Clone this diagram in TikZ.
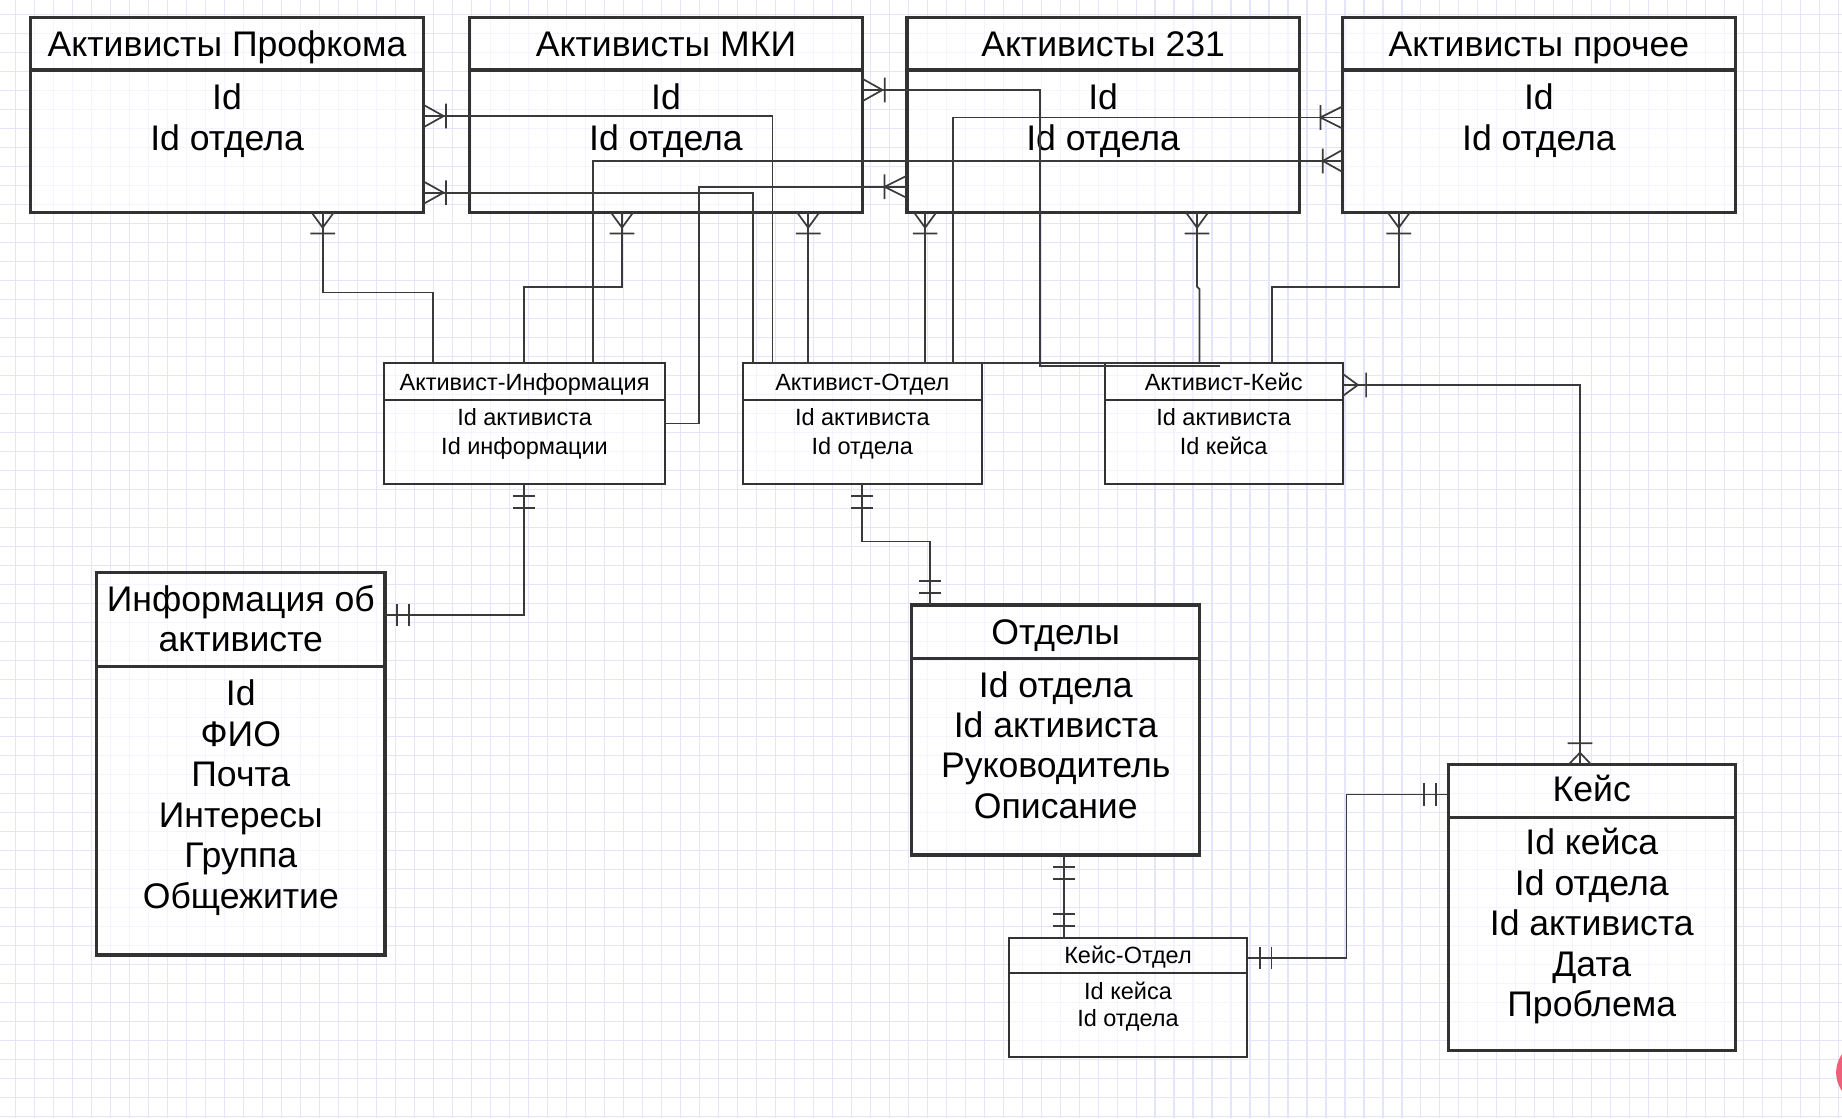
\documentclass[tikz,border=0pt]{standalone}
\usepackage{fontspec}
\setmainfont{Liberation Sans}
\usetikzlibrary{calc}
\definecolor{gridc}{RGB}{228,228,250}
\definecolor{ink}{RGB}{50,50,50}
\definecolor{linec}{RGB}{58,58,58}
\definecolor{dotc}{RGB}{238,96,122}
\tikzset{
  bigbox/.style={draw=ink, line width=2.7pt, fill=white, fill opacity=0.6, inner sep=0pt, outer sep=0pt},
  smallbox/.style={draw=ink, line width=1.6pt, fill=white, fill opacity=0.6, inner sep=0pt, outer sep=0pt},
  conn/.style={draw=linec, line width=1.45pt},
  gridline/.style={draw=gridc, line width=0.9pt},
  bigtxt/.style={font=\fontsize{30.3}{35}\selectfont, anchor=base, inner sep=0pt},
  smalltxt/.style={font=\fontsize{20}{24}\selectfont, anchor=base, inner sep=0pt},
}
% name, x1, y1, x2, y2, ydiv, style
\newcommand\ebox[7]{%
  \node[#7, anchor=north west, minimum width={(#4-#2)*1pt}, minimum height={(#5-#3)*1pt}] (#1) at (#2,#3) {};
  \draw[#7, fill=none] (#2,#6) -- (#4,#6);
}
% prefix, style, cx, y0, dy, list
\newcommand\tlines[6]{%
  \foreach \t [count=\i from 0] in {#6} {\node[#2] (#1-\i) at (#3,{#4+\i*#5}) {\t};}
}
% crow foot: point, angle, toe length, bar position
\newcommand\crowf[4]{\draw[conn, shift={(#1)}, rotate=#2] (0,-9.5) -- (#3,0) -- (0,9.5) (#4,-10.5) -- (#4,10.5);}
% double bar: point, angle
\newcommand\dbar[2]{\draw[conn, shift={(#1)}, rotate=#2] (10.5,-9.5) -- (10.5,9.5) (20.5,-9.5) -- (20.5,9.5);}

\begin{document}
\begin{tikzpicture}[x=1pt, y=-1pt]
\useasboundingbox (0,0) rectangle (1568,952);
\fill[white] (0,0) rectangle (1568,952);
\foreach \i in {0,...,96} \draw[gridline] ({13+\i*16.17},0) -- ({13+\i*16.17},952);
\foreach \j in {0,...,58} \draw[gridline] (0,{12.4+\j*16.17}) -- (1568,{12.4+\j*16.17});

% ---- top entities
\ebox{P}{26}{14.8}{360.6}{180.8}{59.6}{bigbox}
\ebox{M}{399.6}{14.8}{734.2}{180.8}{59.6}{bigbox}
\ebox{T}{772}{14.8}{1106}{180.8}{59.6}{bigbox}
\ebox{O}{1143}{14.8}{1477}{180.8}{59.6}{bigbox}
\tlines{Pt}{bigtxt}{193.3}{47.7}{0}{Активисты Профкома}
\tlines{Pb}{bigtxt}{193.3}{93.6}{34.7}{Id, Id отдела}
\tlines{Mt}{bigtxt}{566.9}{47.7}{0}{Активисты МКИ}
\tlines{Mb}{bigtxt}{566.9}{93.6}{34.7}{Id, Id отдела}
\tlines{Tt}{bigtxt}{939}{47.7}{0}{Активисты 231}
\tlines{Tb}{bigtxt}{939}{93.6}{34.7}{Id, Id отдела}
\tlines{Ot}{bigtxt}{1310}{47.7}{0}{Активисты прочее}
\tlines{Ob}{bigtxt}{1310}{93.6}{34.7}{Id, Id отдела}

% ---- link tables
\ebox{AI}{327.2}{309.3}{565.8}{412}{340.5}{smallbox}
\ebox{AO}{632.4}{309.3}{835.7}{412}{340.5}{smallbox}
\ebox{AK}{940.4}{309.3}{1142.9}{412}{340.5}{smallbox}
\tlines{AIt}{smalltxt}{446.5}{332}{0}{Активист-Информация}
\tlines{AIb}{smalltxt}{446.5}{362.6}{24}{Id активиста, Id информации}
\tlines{AOt}{smalltxt}{734}{332}{0}{Активист-Отдел}
\tlines{AOb}{smalltxt}{734}{362.6}{24}{Id активиста, Id отдела}
\tlines{AKt}{smalltxt}{1041.6}{332}{0}{Активист-Кейс}
\tlines{AKb}{smalltxt}{1041.6}{362.6}{24}{Id активиста, Id кейса}

% ---- lower entities
\ebox{I}{82.3}{487.2}{327.7}{813}{567.5}{bigbox}
\tlines{It}{bigtxt}{205}{520.7}{33.5}{Информация об, активисте}
\tlines{Ib}{bigtxt}{205}{600.7}{34.5}{Id, ФИО, Почта, Интересы, Группа, Общежитие}
\ebox{D}{776.2}{515}{1021.2}{727.8}{560.4}{bigbox}
\tlines{Dt}{bigtxt}{898.7}{549}{0}{Отделы}
\tlines{Db}{bigtxt}{898.7}{593.6}{34.3}{Id отдела, Id активиста, Руководитель, Описание}
\ebox{KO}{858.6}{798.8}{1061.8}{900.1}{828.6}{smallbox}
\tlines{KOt}{smalltxt}{960.2}{820}{0}{Кейс-Отдел}
\tlines{KOb}{smalltxt}{960.2}{850.7}{23.3}{Id кейса, Id отдела}
\ebox{K}{1232.8}{650.7}{1477.2}{894.4}{695.8}{bigbox}
\tlines{Kt}{bigtxt}{1355}{682.4}{0}{Кейс}
\tlines{Kb}{bigtxt}{1355}{727.8}{34.4}{Id кейса, Id отдела, Id активиста, Дата, Проблема}

% ---- connectors
\draw[conn] (P.south -| 274.7,0) -- (274.7,249) -- (368.6,249) -- (AI.north -| 368.6,0);
\draw[conn] (M.south -| 529.5,0) -- (529.5,244.6) -- (446,244.6) -- (AI.north -| 446,0);
\draw[conn] (AI.north -| 504.5,0) -- (504.5,137) -- (O.west |- 0,137);
\draw[conn] (T.west |- 0,159) -- (595,159) -- (595,360.4) -- (AI.east |- 0,360.4);
\draw[conn] (P.east |- 0,98.8) -- (657.5,98.8) -- (657.5,309.3) -- (AK.north -| 966,0);
\draw[conn] (P.east |- 0,164) -- (641,164) -- (AO.north -| 641,0);
\draw[conn] (M.east |- 0,76.6) -- (885.5,76.6) -- (885.5,311.6) -- ($(AK.north -| 1038.7,0)+(0,2.3)$);
\draw[conn] (M.south -| 688,0) -- (AO.north -| 688,0);
\draw[conn] (O.west |- 0,100) -- (811,100) -- (AO.north -| 811,0);
\draw[conn] (T.south -| 787.5,0) -- (AO.north -| 787.5,0);
\draw[conn] (T.south -| 1019,0) -- (1019,244) -- (1021,246) -- (AK.north -| 1021,0);
\draw[conn] (O.south -| 1190.7,0) -- (1190.7,244.6) -- (1083,244.6) -- (AK.north -| 1083,0);
\draw[conn] (AI.south -| 446,0) -- (446,523.5) -- (I.east |- 0,523.5);
\draw[conn] (AO.south -| 733.5,0) -- (733.5,461) -- (791.7,461) -- (D.north -| 791.7,0);
\draw[conn] (D.south -| 905.5,0) -- (KO.north -| 905.5,0);
\draw[conn] (KO.east |- 0,815.3) -- (1146.3,815.3) -- (1146.3,676.2) -- (K.west |- 0,676.2);
\draw[conn] (K.north -| 1344.9,0) -- (1344.9,327.7) -- (AK.east |- 0,327.7);

% ---- crow feet (one or many)
\crowf{P.south -| 274.7,0}{-90}{13}{18}
\crowf{M.south -| 529.5,0}{-90}{13}{18}
\crowf{M.south -| 688,0}{-90}{13}{18}
\crowf{T.south -| 787.5,0}{-90}{13}{18}
\crowf{T.south -| 1019,0}{-90}{13}{18}
\crowf{O.south -| 1190.7,0}{-90}{13}{18}
\crowf{P.east |- 0,98.8}{0}{17}{19}
\crowf{P.east |- 0,164}{0}{17}{19}
\crowf{M.east |- 0,76.6}{0}{17}{19}
\crowf{T.west |- 0,159}{180}{19}{19}
\crowf{O.west |- 0,100}{180}{19}{19}
\crowf{O.west |- 0,137}{180}{17}{17}
\crowf{AK.east |- 0,327.7}{0}{13}{20}
\crowf{K.north -| 1344.9,0}{90}{10}{18}

% ---- double bars (one and only one)
\dbar{AI.south -| 446,0}{-90}
\dbar{I.east |- 0,523.5}{0}
\dbar{AO.south -| 733.5,0}{-90}
\dbar{D.north -| 791.7,0}{90}
\dbar{D.south -| 905.5,0}{-90}
\dbar{KO.north -| 905.5,0}{90}
\dbar{KO.east |- 0,815.3}{0}
\dbar{K.west |- 0,676.2}{180}

\begin{scope}
\clip (0,0) rectangle (1568,952);
\fill[dotc] (1590,913) circle[radius=27pt];
\end{scope}
\end{tikzpicture}
\end{document}
